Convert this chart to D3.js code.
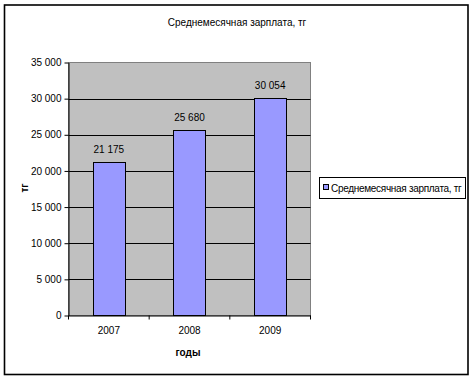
<!DOCTYPE html>
<html>
<head>
<meta charset="utf-8">
<script src="https://cdn.jsdelivr.net/npm/d3@7"></script>
<style>
body { margin: 0; background: #fff; }
text { font-family: "Liberation Sans", Arial, sans-serif; }
</style>
</head>
<body>
<div id="app"></div>
<script>
var years = ["2007", "2008", "2009"];
var salary = [21175, 25680, 30054];
var yTicks = [0, 5000, 10000, 15000, 20000, 25000, 30000, 35000];
var seriesName = "Среднемесячная зарплата, тг";

var chartW = 473;
var chartH = 381;

var plotL = 68.5;
var plotR = 310.5;
var plotT = 62.5;
var plotB = 315.5;

var barFill = "#9999ff";
var plotFill = "#c0c0c0";

var ruLocale = d3.formatLocale({ decimal: ",", thousands: " ", grouping: [3], currency: ["", ""] });
var fmt = ruLocale.format(",d");

var svg = d3.select("#app")
    .append("svg")
    .attr("width", chartW)
    .attr("height", chartH);

//OUTER FRAME
svg.append("rect")
    .attr("x", 4.5)
    .attr("y", 5)
    .attr("width", 463.5)
    .attr("height", 369.5)
    .style("fill", "#fff")
    .style("stroke", "#000")
    .style("stroke-width", 1.6);

//TITLE
svg.append("text")
    .attr("x", 237)
    .attr("y", 26)
    .attr("text-anchor", "middle")
    .style("font-size", "10px")
    .text(seriesName);

var x = d3.scaleBand()
    .domain(years)
    .range([plotL, plotR])
    .paddingInner(0.6)
    .paddingOuter(0.3);

var y = d3.scaleLinear()
    .domain([0, 35000])
    .range([plotB, plotT]);

//PLOT AREA
svg.append("rect")
    .attr("x", plotL)
    .attr("y", plotT)
    .attr("width", plotR - plotL)
    .attr("height", plotB - plotT)
    .style("fill", plotFill)
    .style("stroke", "#808080")
    .style("stroke-width", 1);

//GRIDLINES
svg.selectAll(".grid")
    .data(yTicks.filter(function (d) { return d > 0 && d < 35000; }))
    .enter()
    .append("line")
    .attr("class", "grid")
    .attr("x1", plotL)
    .attr("x2", plotR)
    .attr("y1", function (d) { return Math.round(y(d)) + 0.5; })
    .attr("y2", function (d) { return Math.round(y(d)) + 0.5; })
    .style("stroke", "#000")
    .style("stroke-width", 1);

//BARS
svg.selectAll(".bar")
    .data(salary)
    .enter()
    .append("rect")
    .attr("class", "bar")
    .attr("x", function (d, i) { return Math.round(x(years[i])) + 0.5; })
    .attr("y", function (d) { return Math.round(y(d)) + 0.5; })
    .attr("width", Math.round(x.bandwidth()))
    .attr("height", function (d) { return plotB - Math.round(y(d)) - 0.5; })
    .style("fill", barFill)
    .style("stroke", "#000")
    .style("stroke-width", 1);

//DATA LABELS
svg.selectAll(".lbl")
    .data(salary)
    .enter()
    .append("text")
    .attr("class", "lbl")
    .attr("x", function (d, i) { return x(years[i]) + x.bandwidth() / 2; })
    .attr("y", function (d) { return y(d) - 9; })
    .attr("text-anchor", "middle")
    .style("font-size", "10px")
    .text(function (d) { return fmt(d); });

//Y AXIS
var yAxis = svg.append("g")
    .attr("transform", "translate(" + plotL + ",0)")
    .call(d3.axisLeft(y).tickValues(yTicks).tickSize(4).tickSizeOuter(0).tickPadding(3).tickFormat(fmt));
yAxis.selectAll("text").style("font-size", "10px").style("fill", "#000");
yAxis.selectAll("line, path").style("stroke", "#000");

//X AXIS
var xAxis = svg.append("g")
    .attr("transform", "translate(0," + plotB + ")")
    .call(d3.axisBottom(x).tickSize(0).tickPadding(11));
xAxis.selectAll("text").style("font-size", "10px").style("fill", "#000");
xAxis.selectAll("line, path").style("stroke", "#000");

// category boundary ticks
var bounds = [plotL, plotL + x.step() * 1.0, plotL + x.step() * 2.0, plotR];
svg.selectAll(".xtick")
    .data(bounds)
    .enter()
    .append("line")
    .attr("class", "xtick")
    .attr("x1", function (d) { return d; })
    .attr("x2", function (d) { return d; })
    .attr("y1", plotB)
    .attr("y2", plotB + 4)
    .style("stroke", "#000");

//AXIS TITLES
svg.append("text")
    .attr("x", 188)
    .attr("y", 356)
    .attr("text-anchor", "middle")
    .style("font-size", "10px")
    .style("font-weight", "bold")
    .text("годы");

svg.append("text")
    .attr("transform", "translate(28,188) rotate(-90)")
    .attr("text-anchor", "middle")
    .style("font-size", "10px")
    .style("font-weight", "bold")
    .text("тг");

//LEGEND
svg.append("rect")
    .attr("x", 319.5)
    .attr("y", 177.5)
    .attr("width", 146)
    .attr("height", 21)
    .style("fill", "#fff")
    .style("stroke", "#000")
    .style("stroke-width", 1);

svg.append("rect")
    .attr("x", 323.5)
    .attr("y", 184.5)
    .attr("width", 5)
    .attr("height", 5)
    .style("fill", barFill)
    .style("stroke", "#000")
    .style("stroke-width", 1);

svg.append("text")
    .attr("x", 331)
    .attr("y", 191.5)
    .style("font-size", "10px")
    .style("letter-spacing", "-0.3px")
    .text(seriesName);
</script>
</body>
</html>
